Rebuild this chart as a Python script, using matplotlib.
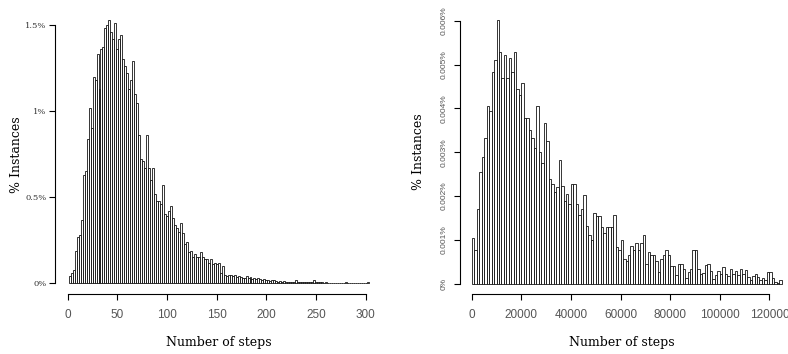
import numpy as np
import matplotlib
matplotlib.use("Agg")
import matplotlib.pyplot as plt

# left panel: bins of width 2 steps, starting at 1
left_start, left_width = 1, 2
left_pct = [
    0.04, 0.06, 0.08, 0.19, 0.27, 0.28, 0.37, 0.63, 0.65, 0.84,
    1.02, 0.90, 1.20, 1.18, 1.33, 1.13, 1.36, 1.37, 1.48, 1.50,
    1.53, 1.46, 1.42, 1.51, 1.36, 1.42, 1.44, 1.30, 1.26, 1.22,
    1.13, 1.18, 1.29, 1.10, 1.05, 0.86, 0.72, 0.71, 0.67, 0.86,
    0.67, 0.60, 0.67, 0.52, 0.48, 0.48, 0.46, 0.57, 0.40, 0.39,
    0.42, 0.45, 0.38, 0.34, 0.32, 0.30, 0.35, 0.29, 0.23, 0.24,
    0.18, 0.19, 0.15, 0.17, 0.15, 0.15, 0.18, 0.15, 0.14, 0.14,
    0.12, 0.14, 0.11, 0.12, 0.11, 0.12, 0.06, 0.10, 0.05, 0.04,
    0.05, 0.05, 0.04, 0.05, 0.035, 0.045, 0.035, 0.03, 0.03, 0.04,
    0.03, 0.035, 0.025, 0.03, 0.025, 0.03, 0.025, 0.02, 0.025, 0.02,
    0.02, 0.015, 0.02, 0.02, 0.015, 0.01, 0.015, 0.01, 0.012, 0.01,
    0.008, 0.01, 0.008, 0.01, 0.02, 0.006, 0.008, 0.006, 0.008, 0.006,
    0.008, 0.006, 0.01, 0.018, 0.008, 0.006, 0.006, 0.008, 0.004, 0.006,
    0.004, 0.004, 0.0, 0.0, 0.002, 0.0, 0.0, 0.0, 0.004, 0.006,
    0.002, 0.004, 0.002, 0.0, 0.002, 0.0, 0.0, 0.0, 0.0, 0.0,
    0.006,
]
left_yticks = [0, 0.5, 1, 1.5]
left_ylabels = ["0%", "0.5%", "1%", "1.5%"]
left_xticks = [0, 50, 100, 150, 200, 250, 300]

# right panel: bins of 1000 steps, heights in thousandths of a percent
right_start, right_width = 0, 1000
right_milli_pct = [
    1.05, 0.78, 1.70, 2.56, 2.88, 3.32, 4.06, 3.93, 4.82, 5.10,
    6.02, 5.28, 4.70, 5.22, 4.70, 5.16, 4.82, 5.28, 4.44, 4.30,
    4.57, 3.79, 3.79, 3.51, 3.32, 3.09, 4.06, 3.00, 2.75, 3.66,
    3.26, 2.40, 2.27, 2.10, 2.20, 2.82, 2.23, 1.89, 2.04, 1.83,
    2.27, 2.27, 1.83, 1.57, 1.71, 2.02, 1.32, 1.11, 1.00, 1.62,
    1.55, 1.55, 1.30, 1.15, 1.30, 1.30, 1.30, 1.57, 0.84, 0.78,
    0.99, 0.57, 0.52, 0.65, 0.86, 0.78, 0.92, 0.78, 0.92, 1.11,
    0.46, 0.72, 0.66, 0.66, 0.52, 0.27, 0.57, 0.66, 0.78, 0.66,
    0.40, 0.40, 0.20, 0.46, 0.44, 0.33, 0.14, 0.27, 0.33, 0.78,
    0.78, 0.33, 0.22, 0.24, 0.43, 0.46, 0.30, 0.10, 0.20, 0.29,
    0.22, 0.39, 0.22, 0.18, 0.33, 0.22, 0.30, 0.20, 0.33, 0.22,
    0.31, 0.16, 0.08, 0.17, 0.22, 0.16, 0.08, 0.12, 0.08, 0.27,
    0.27, 0.12, 0.04, 0.02, 0.08,
]
right_yticks = [0, 1, 2, 3, 4, 5, 6]
right_ylabels = ["0%", "0.001%", "0.002%", "0.003%", "0.004%", "0.005%", "0.006%"]
right_xticks = [0, 20000, 40000, 60000, 80000, 100000, 120000]

serif = "DejaVu Serif"
sans = "Liberation Sans"

fig = plt.figure(figsize=(7.88, 3.54), dpi=100)
axL = fig.add_axes([0.0698, 0.1686, 0.4145, 0.7899])
axR = fig.add_axes([0.5834, 0.1686, 0.4103, 0.8037])


def r_style(ax, xticks, yticks):
    # detached axes, no box, like base R graphics
    for s in ("top", "right"):
        ax.spines[s].set_visible(False)
    ax.spines["left"].set_bounds(yticks[0], yticks[-1])
    ax.spines["bottom"].set_bounds(xticks[0], xticks[-1])
    for s in ("left", "bottom"):
        ax.spines[s].set_linewidth(0.8)
    ax.set_xticks(xticks)
    ax.set_yticks(yticks)
    ax.tick_params(axis="both", length=4, width=0.8, direction="out")
    ax.tick_params(axis="x", labelsize=8.5, labelcolor="#555555", pad=6.5)
    for lab in ax.get_xticklabels():
        lab.set_family(sans)


def draw_hist(ax, start, width, heights):
    n = len(heights)
    centers = start + width * (np.arange(n) + 0.5)
    ax.bar(centers, heights, width=width, facecolor="white",
           edgecolor="black", linewidth=0.55)


# left
lh = np.array(left_pct)
draw_hist(axL, left_start, left_width, lh)
axL.set_xlim(-12.8, 316)
axL.set_ylim(-0.064, 1.56)
r_style(axL, left_xticks, left_yticks)
axL.set_yticklabels(left_ylabels, family=serif, fontsize=6, color="#333333")
axL.tick_params(axis="y", pad=2)
axL.set_xlabel("Number of steps", family=serif, fontsize=9, labelpad=11)
axL.set_ylabel("% Instances", family=serif, fontsize=9, labelpad=2)

# right
rh = np.array(right_milli_pct)
draw_hist(axR, right_start, right_width, rh)
axR.set_xlim(-4839, 125500)
axR.set_ylim(-0.242, 6.25)
r_style(axR, right_xticks, right_yticks)
axR.set_yticklabels(right_ylabels, family=sans, fontsize=6, color="#555555",
                    rotation=90, va="center")
axR.tick_params(axis="y", pad=5)
axR.set_xlabel("Number of steps", family=serif, fontsize=9, labelpad=11)
axR.set_ylabel("% Instances", family=serif, fontsize=9, labelpad=11)

fig.savefig("out.png", dpi=100)
